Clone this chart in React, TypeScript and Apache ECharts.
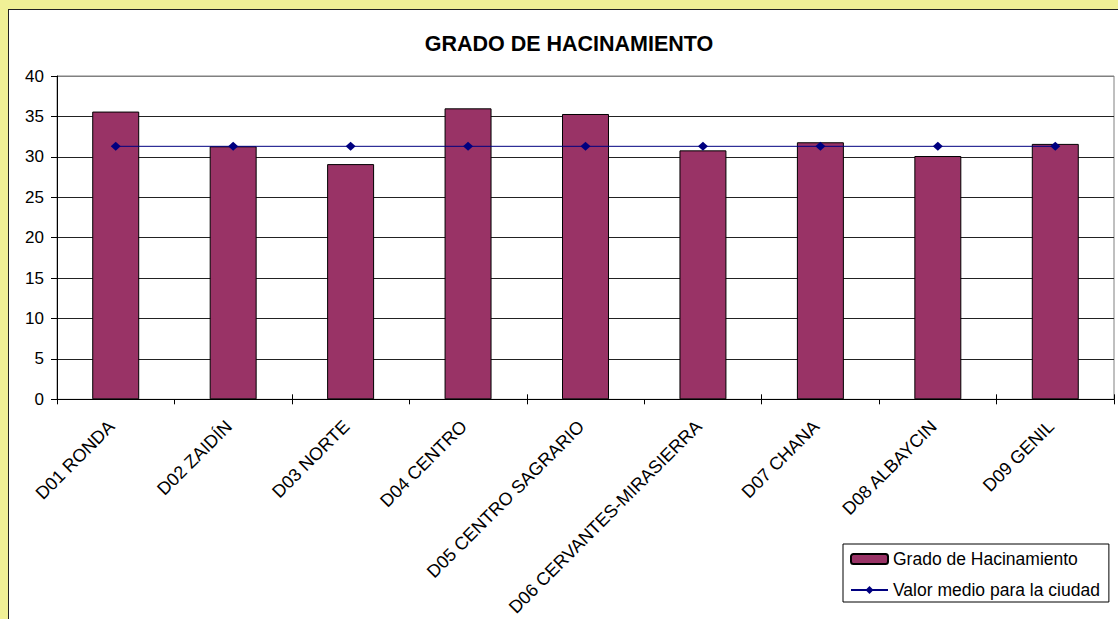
import React, { useEffect, useRef } from "react";
import * as echarts from "echarts";

const titleText = "GRADO DE HACINAMIENTO";
const categories = [
  "D01 RONDA",
  "D02 ZAIDÍN",
  "D03 NORTE",
  "D04 CENTRO",
  "D05 CENTRO SAGRARIO",
  "D06 CERVANTES-MIRASIERRA",
  "D07 CHANA",
  "D08 ALBAYCIN",
  "D09 GENIL",
];
const gradoValues = [35.6, 31.3, 29.1, 36.0, 35.3, 30.8, 31.8, 30.1, 31.6];
const mediaValues = [31.3, 31.3, 31.3, 31.3, 31.3, 31.3, 31.3, 31.3, 31.3];
const barName = "Grado de Hacinamiento";
const lineName = "Valor medio para la ciudad";

const FONT = "'Liberation Sans', Arial, sans-serif";

export default function App() {
  const ref = useRef<HTMLDivElement>(null);
  useEffect(() => {
    if (!ref.current) return;
    const chart = echarts.init(ref.current, undefined, { renderer: "svg" });
    chart.setOption({
      animation: false,
      backgroundColor: "transparent",
      textStyle: { fontFamily: FONT },
      title: {
        text: titleText,
        left: 569,
        top: 33,
        padding: 0,
        textAlign: "center",
        textStyle: {
          fontFamily: FONT,
          fontSize: 21.5,
          fontWeight: "bold",
          color: "#000",
          lineHeight: 21,
        },
      },
      legend: {
        orient: "vertical",
        left: 843,
        top: 544,
        padding: [6, 9, 3, 7],
        itemGap: 13,
        itemWidth: 37,
        itemHeight: 10,
        borderColor: "#000",
        borderWidth: 1,
        backgroundColor: "#fff",
        textStyle: { fontFamily: FONT, fontSize: 17.5, color: "#000", lineHeight: 18 },
        data: [barName, lineName],
      },
      grid: {
        left: 57,
        width: 1057,
        top: 76,
        height: 327,
        show: true,
        borderColor: "#808080",
        borderWidth: 1,
        backgroundColor: "#fff",
      },
      xAxis: [
        {
          type: "category",
          data: categories,
          position: "bottom",
          boundaryGap: true,
          axisLine: { show: true, lineStyle: { color: "#000", width: 1 } },
          axisTick: { show: true, inside: false, length: 5, lineStyle: { color: "#000" } },
          axisLabel: {
            interval: 0,
            rotate: 45,
            margin: 20,
            padding: [0, 6, 0, 0],
            fontFamily: FONT,
            fontSize: 18,
            color: "#000",
          },
          splitLine: { show: false },
        },
        {
          type: "category",
          data: categories,
          position: "bottom",
          boundaryGap: true,
          axisLine: { show: false },
          axisTick: { show: true, inside: true, length: 5, lineStyle: { color: "#000" } },
          axisLabel: { show: false },
          splitLine: { show: false },
        },
      ],
      yAxis: {
        type: "value",
        min: 0,
        max: 40,
        interval: 5,
        axisLine: { show: true, lineStyle: { color: "#000", width: 1 } },
        axisTick: { show: true, inside: false, length: 6, lineStyle: { color: "#000" } },
        axisLabel: { margin: 13, fontFamily: FONT, fontSize: 17, color: "#000" },
        splitLine: {
          show: true,
          lineStyle: {
            color: ["#000", "#222", "#222", "#222", "#222", "#222", "#222", "#222", "#808080"],
            width: 1,
          },
        },
      },
      series: [
        {
          name: barName,
          type: "bar",
          xAxisIndex: 0,
          data: gradoValues,
          barWidth: "40%",
          itemStyle: { color: "#993366", borderColor: "#000", borderWidth: 1 },
          z: 2,
        },
        {
          name: lineName,
          type: "line",
          xAxisIndex: 0,
          data: mediaValues,
          symbol: "diamond",
          symbolSize: [10, 9],
          lineStyle: { color: "#000080", width: 1 },
          itemStyle: { color: "#000080" },
          z: 3,
        },
      ],
    });
    return () => chart.dispose();
  }, []);

  return (
    <div
      style={{
        position: "fixed",
        left: 0,
        top: 0,
        width: 1118,
        height: 619,
        background: "#F0F096",
        overflow: "hidden",
      }}
    >
      <div
        style={{
          position: "absolute",
          left: 8,
          top: 9,
          width: 1200,
          height: 700,
          background: "#fff",
          borderLeft: "1px solid #222",
          borderTop: "1px solid #222",
        }}
      />
      <div
        ref={ref}
        style={{ position: "absolute", left: 0, top: 0, width: 1118, height: 619 }}
      />
    </div>
  );
}
